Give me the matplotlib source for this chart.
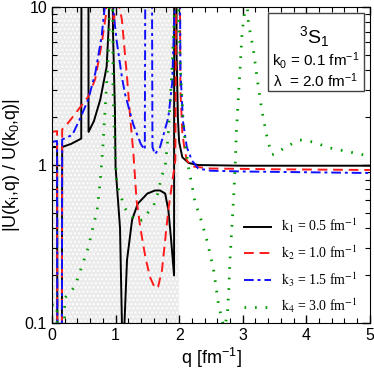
#----------------------------------------------------------------------------------------------------
# Imports
#----------------------------------------------------------------------------------------------------
import numpy as np
import matplotlib
matplotlib.use("Agg")
import matplotlib.pyplot as plt
from matplotlib.patches import Rectangle
from matplotlib.ticker import MultipleLocator, FixedLocator, NullFormatter

plt.rcParams["font.family"] = ["Liberation Sans", "DejaVu Sans"]
plt.rcParams["mathtext.fontset"] = "custom"
plt.rcParams["mathtext.rm"] = "Liberation Sans"
plt.rcParams["mathtext.it"] = "Liberation Sans"

#----------------------------------------------------------------------------------------------------
# Data (1e3 / 1e-3 = off the axis, poles and zeros)
#----------------------------------------------------------------------------------------------------
q1 = [0.0, 0.08, 0.09, 0.15, 0.16, 0.3, 0.46, 0.47, 0.57, 0.575, 0.66, 0.76, 0.86, 0.895, 0.905,
      0.915, 0.96, 0.99, 1.0, 1.07, 1.1, 1.12, 1.14, 1.18, 1.26, 1.35, 1.5, 1.62, 1.7, 1.78,
      1.83, 1.87, 1.92, 1.925, 1.95, 1.96, 1.98, 2.0, 2.05, 2.15, 2.3, 3.0, 4.0, 5.0]
u1 = [1.3, 1.3, 1e-3, 1e-3, 1.3, 1.36, 1.47, 1e3, 1e3, 1.62, 1.9, 2.6, 4.2, 8.0, 1e3,
      1e3, 6.9, 2.2, 0.97, 0.4, 0.1, 1e-3, 0.1, 0.25, 0.45, 0.57, 0.66, 0.69, 0.69, 0.66,
      0.52, 0.35, 0.2, 1e3, 1e3, 5.0, 2.0, 1.4, 1.12, 1.03, 1.0, 0.99, 0.99, 0.99]

q2 = [0.0, 0.08, 0.09, 0.15, 0.16, 0.25, 0.41, 0.57, 0.68, 0.78, 0.85, 0.88, 0.92, 0.95, 0.98,
      1.0, 1.03, 1.06, 1.1, 1.18, 1.23, 1.28, 1.33, 1.39, 1.47, 1.54, 1.62, 1.67, 1.73, 1.78,
      1.83, 1.89, 1.94, 1.97, 1.99, 2.02, 2.05, 2.08, 2.12, 2.2, 2.5, 3.5, 5.0]
u2 = [1.62, 1.64, 1e-3, 1e-3, 1.68, 1.84, 2.23, 2.7, 3.5, 5.8, 9.0, 1e3, 1e3, 10.0, 7.5,
      1e3, 1e3, 10.0, 8.3, 3.6, 2.0, 1.19, 0.6, 0.4, 0.26, 0.196, 0.166, 0.17, 0.216, 0.335,
      0.52, 0.77, 1.07, 1e3, 1e3, 3.0, 1.6, 1.3, 1.07, 0.98, 0.95, 0.94, 0.93]

q3 = [0.0, 0.08, 0.09, 0.15, 0.16, 0.32, 0.45, 0.57, 0.68, 0.78, 0.83, 0.86, 0.95, 0.97, 1.02,
      1.1, 1.15, 1.28, 1.4, 1.46, 1.48, 1.56, 1.58, 1.62, 1.7, 1.83, 1.89, 1.93, 1.96, 1.99,
      2.02, 2.06, 2.12, 2.2, 2.3, 2.5, 3.0, 4.0, 5.0]
u3 = [1.4, 1.42, 1e-3, 1e-3, 1.45, 1.55, 2.0, 2.6, 3.8, 6.5, 10.0, 1e3, 1e3, 9.0, 6.0,
      3.6, 2.8, 1.8, 1.35, 1.25, 1e3, 1e3, 1.3, 1.17, 1.3, 2.0, 3.3, 10.0, 1e3, 1e3,
      4.0, 1.9, 1.3, 1.07, 0.95, 0.92, 0.91, 0.9, 0.89]

q4 = [0.0, 0.08, 0.09, 0.15, 0.2, 0.36, 0.57, 0.71, 0.76, 0.8, 0.86, 0.9, 0.92, 0.94, 0.96,
      0.99, 1.02, 1.15, 1.23, 1.34, 1.43, 1.51, 1.59, 1.67, 1.7, 1.73, 1.78, 1.83, 1.89, 1.93,
      1.97, 1.99, 2.02, 2.06, 2.1, 2.15, 2.2, 2.25, 2.33, 2.44, 2.54, 2.62, 2.65, 2.7, 2.73,
      2.76, 2.78, 2.8, 2.83, 2.86, 2.88, 2.9, 2.93, 2.96, 2.99, 3.04, 3.06, 3.09, 3.17, 3.23,
      3.3, 3.39, 3.46, 3.55, 3.67, 3.9, 4.1, 4.38, 4.9, 5.0]
u4 = [0.13, 0.13, 1e-3, 1e-3, 0.144, 0.17, 0.30, 0.52, 0.8, 1.3, 3.3, 6.4, 1e3, 1e3, 3.0,
      1.2, 0.75, 0.53, 0.48, 0.44, 0.45, 0.50, 0.54, 0.67, 0.77, 0.86, 0.97, 1.6, 4.2, 10.0,
      1e3, 10.0, 4.0, 2.0, 1.3, 0.95, 0.75, 0.58, 0.47, 0.33, 0.22, 0.13, 0.116, 0.095, 0.1,
      0.116, 0.16, 0.25, 0.41, 0.66, 0.97, 1.6, 2.6, 4.2, 6.9, 10.0, 12.0, 7.9, 5.3, 3.45,
      2.23, 1.44, 1.16, 1.2, 1.3, 1.44, 1.4, 1.28, 1.16, 1.15]

labels = [r"$\mathrm{k}_1$ = 0.5 fm$^{-1}$", r"$\mathrm{k}_2$ = 1.0 fm$^{-1}$",
          r"$\mathrm{k}_3$ = 1.5 fm$^{-1}$", r"$\mathrm{k}_4$ = 3.0 fm$^{-1}$"]

#----------------------------------------------------------------------------------------------------
# Plot
#----------------------------------------------------------------------------------------------------
fig = plt.figure(figsize=(3.74, 3.70), dpi=100)
ax = fig.add_axes([0.139, 0.127, 0.850, 0.854])

ax.axvspan(0, 2, facecolor="#ebebeb", edgecolor="white", hatch="....", linewidth=0, zorder=0)

ax.plot(q1, u1, color="black", linewidth=1.4, label=labels[0])
ax.plot(q2, u2, color="#ff1a1a", linewidth=1.4, dashes=(5, 3), label=labels[1])
ax.plot(q3, u3, color="#1010ff", linewidth=1.4, dashes=(5, 2, 1.5, 2), label=labels[2])
ax.plot(q4, u4, color="#009a00", linewidth=2.0, dashes=(0.6, 3.2), label=labels[3])

ax.set_yscale("log")
ax.set_xlim(0, 5)
ax.set_ylim(0.1, 10)

ax.xaxis.set_major_locator(MultipleLocator(1))
ax.xaxis.set_minor_locator(MultipleLocator(0.2))
ax.yaxis.set_major_locator(FixedLocator([0.1, 1, 10]))
ax.set_yticklabels(["0.1", "1", "10"])
ax.yaxis.set_minor_locator(FixedLocator([i * d for d in (0.1, 1) for i in range(2, 10)]))
ax.yaxis.set_minor_formatter(NullFormatter())

ax.tick_params(which="both", direction="in", top=True, right=True, labelsize=11.5)
ax.tick_params(which="major", length=6, width=1)
ax.tick_params(which="minor", length=3.5, width=0.8)

ax.set_xlabel(r"q [fm$^{-1}$]", fontsize=13, labelpad=2)
ax.set_ylabel(r"|U(k$_i$,q) / U(k$_0$,q)|", fontsize=13, labelpad=2)

leg = ax.legend(loc="lower right", bbox_to_anchor=(1.0, -0.015), frameon=False,
                handlelength=2.0, handletextpad=0.7, labelspacing=0.6,
                prop={"family": "Liberation Serif", "size": 10})
for t in leg.get_texts():
    t.set_math_fontfamily("stix")

# info box in the upper right corner
ax.add_patch(Rectangle((0.679, 0.734), 0.302, 0.247, transform=ax.transAxes,
                       facecolor="white", edgecolor="#444444", linewidth=1.0, zorder=5))
ax.text(0.826, 0.908, r"$^{3}$S$_{1}$", transform=ax.transAxes, ha="center", va="center",
        fontsize=14, zorder=6)
ax.text(0.830, 0.830, r"k$_0$ = 0.1 fm$^{-1}$", transform=ax.transAxes, ha="center",
        va="center", fontsize=11, zorder=6)
ax.text(0.830, 0.768, r"$\lambda$  = 2.0 fm$^{-1}$", transform=ax.transAxes, ha="center",
        va="center", fontsize=11, zorder=6)

fig.savefig("out.png", dpi=100)
